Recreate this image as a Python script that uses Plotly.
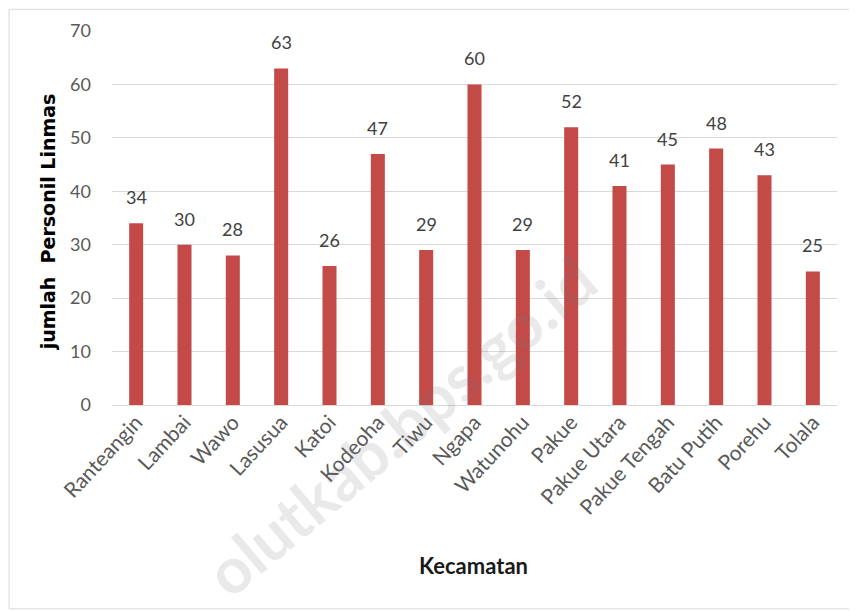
import plotly.graph_objects as go

categories = ["Ranteangin", "Lambai", "Wawo", "Lasusua", "Katoi", "Kodeoha", "Tiwu",
              "Ngapa", "Watunohu", "Pakue", "Pakue Utara", "Pakue Tengah", "Batu Putih",
              "Porehu", "Tolala"]
values = [34, 30, 28, 63, 26, 47, 29, 60, 29, 52, 41, 45, 48, 43, 25]
y_ticks = [0, 10, 20, 30, 40, 50, 60, 70]

FONT = "Lato, 'Open Sans', sans-serif"

fig = go.Figure()
fig.add_trace(go.Bar(
    x=categories, y=values,
    marker=dict(color="#c44a48", line=dict(width=0)),
    hoverinfo="x+y",
))

annotations = []
for c, v in zip(categories, values):
    annotations.append(dict(
        x=c, y=v, xref="x", yref="y", text=str(v), showarrow=False,
        yshift=26, font=dict(family=FONT, size=18, color="#404040"),
    ))

annotations.append(dict(
    text="<b>jumlah  Personil Linmas</b>", xref="paper", yref="paper",
    x=-0.088, y=0.489, textangle=-90, showarrow=False, xanchor="center", yanchor="middle",
    font=dict(family="'DejaVu Sans', sans-serif", size=19, color="#000000"),
))
annotations.append(dict(
    text="<b>Kecamatan</b>", xref="paper", yref="paper",
    x=0.499, y=-0.43, showarrow=False, xanchor="center", yanchor="middle",
    font=dict(family=FONT, size=22, color="#1a1a1a"),
))
# faint watermark
annotations.append(dict(
    text="<b>olutkab.bps.go.id</b>", xref="paper", yref="paper",
    x=0.398, y=-0.055, textangle=-40, showarrow=False,
    xanchor="center", yanchor="middle",
    font=dict(family=FONT, size=64, color="rgba(120,120,120,0.16)"),
))

fig.update_layout(
    width=849, height=603,
    margin=dict(l=104, r=20, t=23, b=206),
    paper_bgcolor="white", plot_bgcolor="white",
    bargap=0.71,
    showlegend=False,
    annotations=annotations,
    font=dict(family=FONT, color="#595959"),
    shapes=[dict(type="rect", xref="paper", yref="paper",
                 x0=-0.142, x1=1.019, y0=-0.545, y1=1.058,
                 line=dict(color="#d9d9d9", width=1))],
)
fig.update_xaxes(
    tickangle=-47, tickfont=dict(family=FONT, size=21, color="#595959"),
    showgrid=False, showline=False, ticks="",
)
fig.update_yaxes(
    range=[0, 70], tickvals=y_ticks, ticktext=[str(t) for t in y_ticks],
    showgrid=True, gridcolor="#d9d9d9", gridwidth=1,
    zeroline=True, zerolinecolor="#d9d9d9", zerolinewidth=1,
    tickfont=dict(family=FONT, size=18, color="#595959"),
    ticklabelstandoff=20, showline=False, ticks="",
)

fig.write_html("out.html")
